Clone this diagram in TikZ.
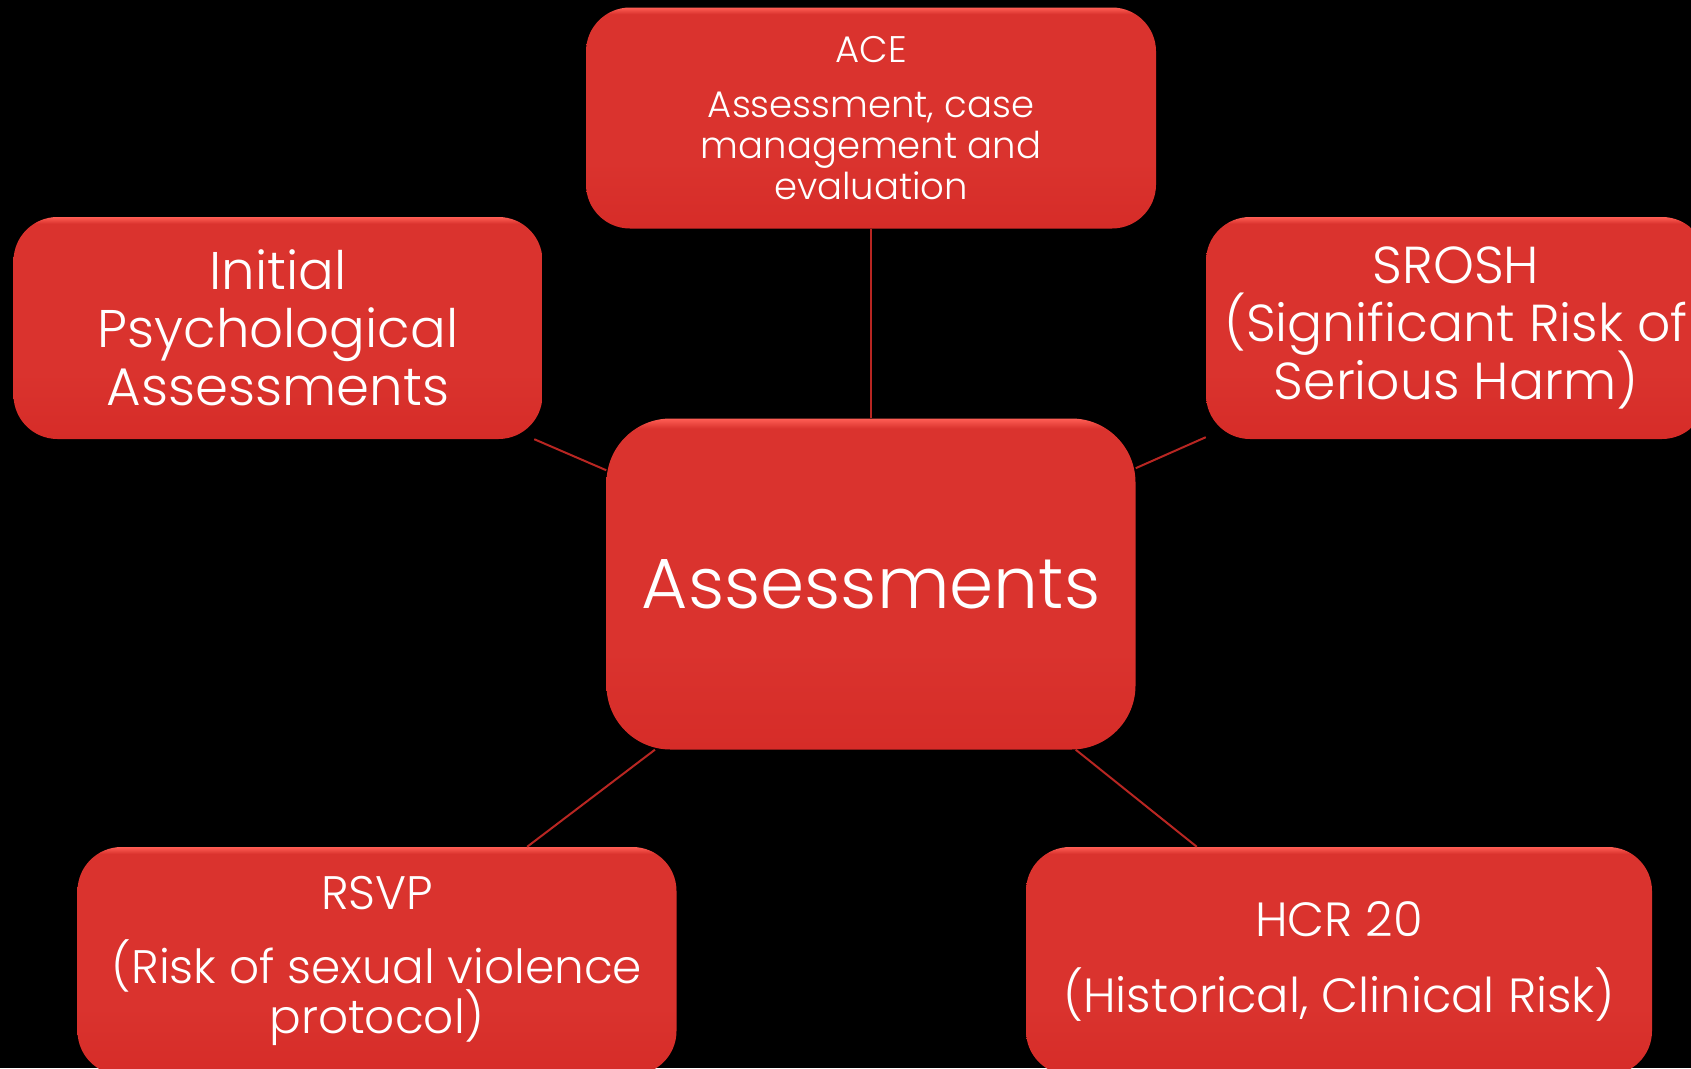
\documentclass[tikz,border=0pt]{standalone}
\usepackage{fontspec}
\setmainfont{Poppins}[UprightFont=* Light]
\usepackage{tikz}
\definecolor{boxtop}{HTML}{FF5E55}
\definecolor{boxmid}{HTML}{DA332E}
\definecolor{boxbot}{HTML}{D62C28}
\definecolor{linkred}{HTML}{B82622}
\pgfdeclareverticalshading{boxshade}{100bp}{color(0bp)=(boxbot); color(25bp)=(boxbot); color(40bp)=(boxmid); color(73.5bp)=(boxmid); color(75bp)=(boxtop); color(100bp)=(boxtop)}
\newcommand{\boxfont}[2]{\fontsize{#1}{#2}\selectfont\lineskiplimit=-100pt\relax}

\begin{document}
\begin{tikzpicture}[x=1pt, y=-1pt,
  box/.style={shading=boxshade, rounded corners=44pt, minimum width=529pt,
    minimum height=222pt, inner sep=0pt, align=center, text=white},
  link/.style={draw=linkred, line width=2pt}]
  % Background
  \fill[black] (0,0) rectangle (1691,1068);
  \useasboundingbox (0,0) rectangle (1691,1068);
  % Boxes
  \node[box, minimum width=570pt, minimum height=221pt,
    font={\boxfont{37}{41}}] (ace) at (871,118)
    {ACE\\[14pt]Assessment, case\\management and\\evaluation};
  \node[box, font={\boxfont{53}{58}}] (initial) at (278,328)
    {Initial\\Psychological\\Assessments};
  \node[box, minimum width=500pt, font={\boxfont{52}{58}}]
    (srosh) at (1456,328) {SROSH\\(Significant Risk of\\Serious Harm)};
  \node[box, minimum height=331pt, rounded corners=64pt,
    font={\boxfont{71}{80}}] (assess) at (871,584) {Assessments};
  \node[box, minimum width=599pt, minimum height=228pt,
    font={\boxfont{47}{50}}] (rsvp) at (377,961)
    {RSVP\\[24pt](Risk of sexual violence\\protocol)};
  \node[box, minimum width=626pt, minimum height=228pt,
    font={\boxfont{48}{50}}] (hcr) at (1339,961)
    {HCR 20\\[26pt](Historical, Clinical Risk)};
  % Connectors
  \draw[link] (ace) -- (assess);
  \draw[link] (initial) -- (assess);
  \draw[link] (srosh) -- (assess);
  \draw[link] (rsvp) -- (assess);
  \draw[link] (hcr) -- (assess);
\end{tikzpicture}
\end{document}
